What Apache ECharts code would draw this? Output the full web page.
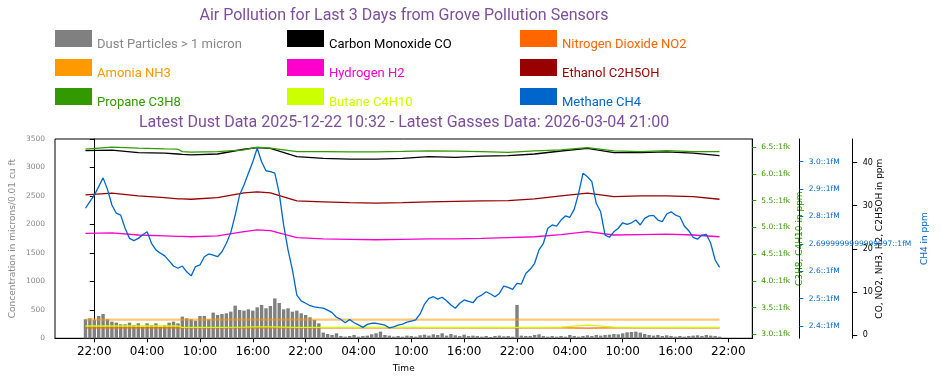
<!DOCTYPE html>
<html><head><meta charset="utf-8">
<script src="https://cdn.jsdelivr.net/npm/echarts@6/dist/echarts.min.js"></script>
<style>html,body{margin:0;padding:0;background:#fff}#c{width:942px;height:385px}</style>
</head><body><div id="c"></div>
<script>
const titleText = 'Air Pollution for Last 3 Days from Grove Pollution Sensors';
const subtitleText = 'Latest Dust Data 2025-12-22 10:32 - Latest Gasses Data: 2026-03-04 21:00';

// x values are hours since 2026-03-01 22:00
const xTickHours = [0, 6, 12, 18, 24, 30, 36, 42, 48, 54, 60, 66, 72];
const xTickLabels = ['22:00','04:00','10:00','16:00','22:00','04:00','10:00','16:00','22:00','04:00','10:00','16:00','22:00'];

// dust: half-hour samples starting 2026-03-01 21:00 (hour -1)
const dustStartHour = -1, dustStepHours = 0.5;
const dust = [334,351,322,392,427,334,293,275,246,246,275,234,263,205,263,234,263,205,234,275,293,263,380,351,334,310,392,392,334,451,410,427,439,468,574,498,486,509,486,544,585,527,568,700,620,509,527,468,486,439,410,369,322,263,100,
76,58,88,41,29,41,58,29,41,47,70,88,117,58,47,29,41,29,47,41,29,53,64,47,70,58,88,47,76,53,41,64,41,47,41,29,41,23,41,47,35,41,29,585,47,41,41,59,70,41,29,41,29,41,29,59,41,29,41,53,41,59,47,59,64,76,70,88,105,111,117,100,76,59,47,59,41,53,41,29,41,29,41,47,53,41,59,47,41,29];

// methane: half-hour samples starting hour -1
const ch4StartHour = -1, ch4StepHours = 0.5;
const ch4 = [2.830,2.854,2.878,2.909,2.941,2.899,2.842,2.812,2.805,2.757,2.720,2.712,2.720,2.733,2.744,2.702,2.678,2.666,2.656,2.638,2.619,2.611,2.619,2.598,2.583,2.617,2.623,2.653,2.663,2.659,2.653,2.671,2.702,2.741,2.805,2.878,2.915,2.958,3.000,3.049,3.000,2.967,2.964,2.958,2.885,2.769,2.678,2.605,2.513,2.492,2.483,2.474,2.470,2.467,2.465,2.458,2.449,2.432,2.424,2.412,2.424,2.412,2.404,2.395,2.406,2.410,2.410,2.407,2.403,2.393,2.397,2.403,2.407,2.414,2.418,2.422,2.444,2.480,2.501,2.507,2.498,2.505,2.492,2.477,2.465,2.483,2.495,2.490,2.485,2.505,2.513,2.525,2.517,2.507,2.519,2.546,2.541,2.534,2.556,2.553,2.592,2.607,2.629,2.678,2.702,2.757,2.769,2.765,2.787,2.802,2.797,2.826,2.885,2.958,2.945,2.927,2.848,2.817,2.732,2.724,2.744,2.757,2.777,2.771,2.777,2.787,2.769,2.793,2.802,2.804,2.787,2.781,2.809,2.817,2.805,2.799,2.765,2.748,2.724,2.717,2.732,2.735,2.702,2.641,2.614];

// other gases: sampled at these hours
const gasHours = [-1,2,5,8,9.5,10,11,14,17,18.5,20,23,26,29,32,35,38,41,44,47,50,53,56,59,62,65,68,71];
const co      = [42.8,42.9,42.3,42.2,42.0,41.9,41.8,42.0,43.1,43.5,43.3,41.4,41.0,40.8,40.8,41.0,41.4,41.2,41.5,41.6,42.0,42.7,43.3,42.3,42.3,42.5,42.2,41.6];
const no2     = [1.67,1.67,1.67,1.67,1.67,1.67,1.67,1.67,1.67,1.67,1.67,1.67,1.67,1.67,1.67,1.67,1.67,1.67,1.67,1.67,1.67,1.65,1.60,1.65,1.67,1.67,1.67,1.67];
const nh3     = [3.55,3.55,3.55,3.55,3.55,3.55,3.55,3.55,3.55,3.55,3.55,3.55,3.55,3.55,3.55,3.55,3.55,3.55,3.55,3.55,3.55,3.55,3.55,3.55,3.55,3.55,3.55,3.55];
const h2      = [23.6,23.7,23.2,23.0,22.9,22.9,22.8,23.0,24.0,24.4,24.2,22.6,22.3,22.2,22.1,22.2,22.3,22.3,22.4,22.6,22.8,23.3,24.0,23.2,23.3,23.4,23.2,22.8];
const ethanol = [32.5,32.9,32.3,31.9,31.6,31.6,31.5,31.9,33.0,33.2,33.0,31.1,30.9,30.7,30.6,30.7,30.9,31.0,31.1,31.2,31.6,32.3,32.9,32.1,32.3,32.3,32.1,31.5];
const propane = [6.464,6.502,6.483,6.470,6.464,6.419,6.408,6.419,6.451,6.502,6.483,6.419,6.419,6.414,6.414,6.423,6.433,6.427,6.419,6.404,6.433,6.451,6.494,6.433,6.419,6.438,6.419,6.419];
const butane  = [3.155,3.157,3.155,3.155,3.155,3.128,3.128,3.128,3.135,3.140,3.138,3.128,3.128,3.128,3.128,3.128,3.128,3.128,3.128,3.128,3.130,3.135,3.170,3.135,3.128,3.128,3.128,3.128];

// axis ticks
const dustTicks = [0,500,1000,1500,2000,2500,3000,3500];
const c3Ticks = [3.0,3.5,4.0,4.5,5.0,5.5,6.0,6.5];
const c3TickLabels = ['3.0::1fk','3.5::1fk','4.0::1fk','4.5::1fk','5.0::1fk','5.5::1fk','6.0::1fk','6.5::1fk'];
const ch4Ticks = [2.4,2.5,2.6,2.7,2.8,2.9,3.0];
const ch4TickLabels = ['2.4::1fM','2.5::1fM','2.6::1fM','2.6999999999999997::1fM','2.8::1fM','2.9::1fM','3.0::1fM'];
const ppmTicks = [0,10,20,30,40];

const names = {
  dust:'Dust Particles > 1 micron', co:'Carbon Monoxide CO', no2:'Nitrogen Dioxide NO2',
  nh3:'Amonia NH3', h2:'Hydrogen H2', eth:'Ethanol C2H5OH',
  c3:'Propane C3H8', c4:'Butane C4H10', ch4:'Methane CH4'
};
const colors = {
  dust:'#808080', co:'#000000', no2:'#ff6600', nh3:'#ff9900', h2:'#ff00cc',
  eth:'#990000', c3:'#339900', c4:'#ccff00', ch4:'#0066cc'
};
const textColors = Object.assign({}, colors, {dust:'#888888'});
const legendCols = [['dust','nh3','c3'],['co','h2','c4'],['no2','eth','ch4']];
const legendLeft = [55, 287, 520];

const purple = '#7d4f9c';
const FONT = 'DejaVu Sans';

const seq = (start, step, n) => Array.from({length:n}, (_, i) => start + i*step);
const pairs = (xs, ys) => ys.map((v, i) => [xs[i], v]);
const dustHours = seq(dustStartHour, dustStepHours, dust.length);
const ch4Hours = seq(ch4StartHour, ch4StepHours, ch4.length);
const nearestLabel = (ticks, labels) => v => {
  let bi = 0, bd = Infinity;
  ticks.forEach((t, i) => { const d = Math.abs(t - v); if (d < bd) { bd = d; bi = i; } });
  return labels[bi];
};

function lineSeries(key, yAxisIndex, ys, extra) {
  return Object.assign({
    name: names[key], type: 'line', xAxisIndex: 0, yAxisIndex,
    data: pairs(gasHours, ys), showSymbol: false, symbol: 'none',
    color: colors[key], lineStyle: {color: colors[key], width: 1.3},
    clip: true
  }, extra || {});
}

const chart = echarts.init(document.getElementById('c'), null, {renderer: 'canvas'});
chart.setOption({
  animation: false,
  backgroundColor: '#fff',
  title: [
    {text: titleText, left: 404, top: 8, textAlign: 'center', padding: 0,
     textStyle: {fontFamily: 'Roboto', fontSize: 16, fontWeight: 'normal', color: purple}},
    {text: subtitleText, left: 404, top: 115, textAlign: 'center', padding: 0,
     textStyle: {fontFamily: 'Roboto', fontSize: 16, fontWeight: 'normal', color: purple}}
  ],
  legend: legendCols.map((col, c) => ({
    orient: 'vertical', left: legendLeft[c], top: 25, padding: 0,
    itemWidth: 37, itemHeight: 17, itemGap: 3, icon: 'rect', selectedMode: false,
    itemStyle: {borderWidth: 0},
    formatter: n => '{s| }\n{t|' + n + '}',
    textStyle: {fontFamily: 'Roboto', fontSize: 13,
      rich: {s: {fontSize: 2, height: 12, lineHeight: 12}, t: {fontFamily: 'Roboto', fontSize: 13, lineHeight: 15}}},
    data: col.map(k => ({name: names[k], textStyle: {color: textColors[k]}}))
  })),
  grid: {left: 55, top: 139, width: 697.3, height: 199.3, show: true, borderColor: '#000', borderWidth: 1,
         backgroundColor: 'transparent', containLabel: false, outerBoundsMode: 'none'},
  xAxis: {
    type: 'value', min: -4.46, max: 74.72,
    axisLine: {show: true, onZero: false, lineStyle: {color: '#000', width: 1}},
    axisTick: {show: true, length: 4, lineStyle: {color: '#000'}, customValues: xTickHours},
    axisLabel: {customValues: xTickHours, formatter: nearestLabel(xTickHours, xTickLabels),
                fontFamily: FONT, fontSize: 12, color: '#000', margin: 8},
    splitLine: {show: false},
    name: 'Time', nameLocation: 'middle', nameGap: 26, nameMoveOverlap: false,
    nameTextStyle: {fontFamily: FONT, fontSize: 9, color: '#000'}
  },
  yAxis: [
    {type: 'value', position: 'left', min: 0, max: 3500,
     axisLine: {show: true, lineStyle: {color: '#000'}},
     axisTick: {show: true, length: 4.5, lineStyle: {color: '#000'}, customValues: dustTicks},
     axisLabel: {customValues: dustTicks, formatter: v => String(Math.round(v)), color: '#888', fontFamily: FONT, fontSize: 7.5, margin: 10},
     splitLine: {show: false},
     name: 'Concentration in microns/0.01 cu ft', nameLocation: 'middle', nameGap: 38, nameMoveOverlap: false,
     nameTextStyle: {color: '#888', fontFamily: FONT, fontSize: 9}},
    {type: 'value', position: 'right', offset: 0, min: 2.925, max: 6.655,
     axisLine: {show: true, lineStyle: {color: '#000'}},
     axisTick: {show: true, length: 4, lineStyle: {color: colors.c3}, customValues: c3Ticks},
     axisLabel: {customValues: c3Ticks, formatter: nearestLabel(c3Ticks, c3TickLabels),
                 color: colors.c3, fontFamily: FONT, fontSize: 7.5, margin: 9},
     splitLine: {show: false},
     name: 'C3H8, C4H10 in ppm', nameLocation: 'middle', nameGap: 43, nameMoveOverlap: false,
     nameTextStyle: {color: colors.c3, fontFamily: FONT, fontSize: 9}},
    {type: 'value', position: 'right', offset: 47, min: 2.3551, max: 3.0829,
     axisLine: {show: true, lineStyle: {color: '#000'}},
     axisTick: {show: true, length: 4, lineStyle: {color: colors.ch4}, customValues: ch4Ticks},
     axisLabel: {customValues: ch4Ticks, formatter: nearestLabel(ch4Ticks, ch4TickLabels),
                 color: colors.ch4, fontFamily: FONT, fontSize: 7.5, margin: 9.5},
     splitLine: {show: false},
     name: 'CH4 in ppm', nameLocation: 'middle', nameGap: 121, nameMoveOverlap: false,
     nameTextStyle: {color: colors.ch4, fontFamily: FONT, fontSize: 9}},
    {type: 'value', position: 'right', offset: 100.4, min: -0.766, max: 45.48,
     axisLine: {show: true, lineStyle: {color: '#000'}},
     axisTick: {show: true, length: 4.5, lineStyle: {color: '#000'}, customValues: ppmTicks},
     axisLabel: {customValues: ppmTicks, color: '#000', fontFamily: FONT, fontSize: 8, margin: 10},
     splitLine: {show: false},
     name: 'CO, NO2, NH3, H2, C2H5OH in ppm', nameLocation: 'middle', nameGap: 22, nameMoveOverlap: false,
     nameTextStyle: {color: '#000', fontFamily: FONT, fontSize: 9}}
  ],
  series: [
    {name: names.dust, type: 'bar', xAxisIndex: 0, yAxisIndex: 0, data: pairs(dustHours, dust),
     barWidth: 3.4, color: colors.dust, itemStyle: {color: colors.dust}, clip: true},
    lineSeries('co', 3, co),
    lineSeries('no2', 3, no2),
    lineSeries('nh3', 3, nh3, {lineStyle: {color: 'rgba(255,153,0,0.55)', width: 2.2}}),
    lineSeries('h2', 3, h2),
    lineSeries('eth', 3, ethanol),
    lineSeries('c3', 1, propane),
    lineSeries('c4', 1, butane),
    {name: names.ch4, type: 'line', xAxisIndex: 0, yAxisIndex: 2, data: pairs(ch4Hours, ch4),
     showSymbol: false, symbol: 'none', color: colors.ch4, lineStyle: {color: colors.ch4, width: 1.3}, clip: true}
  ]
});
</script></body></html>
